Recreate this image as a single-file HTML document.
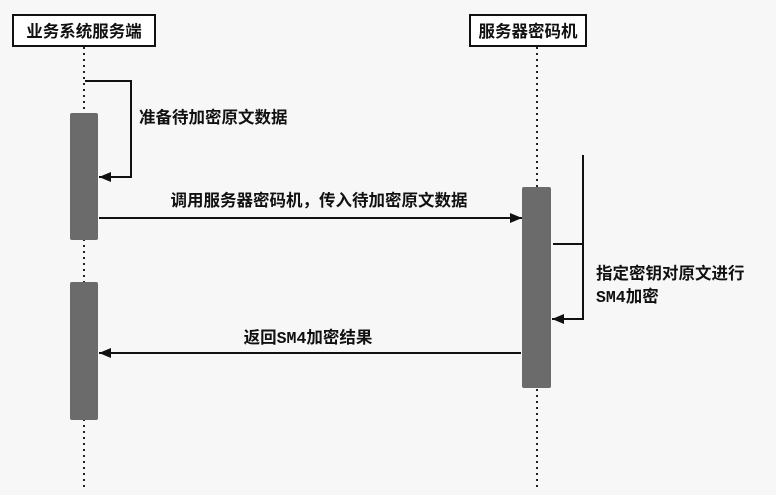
<!DOCTYPE html>
<html><head><meta charset="utf-8"><style>
body{margin:0;background:#f7f7f7;}
svg text{font-family:"Liberation Mono","Noto Sans CJK SC",sans-serif;font-weight:bold;fill:#111;font-size:16.5px;}
</style></head><body>
<svg width="776" height="490" viewBox="0 0 776 490" xmlns="http://www.w3.org/2000/svg">
<defs><marker id="a" markerWidth="12" markerHeight="10" refX="12" refY="5" orient="auto" markerUnits="userSpaceOnUse"><path d="M0,0 L12,5 L0,10 Z" fill="#111"/></marker></defs>
<rect width="776" height="490" fill="#f7f7f7"/>
<line x1="84" y1="47" x2="84" y2="490" stroke="#222" stroke-width="2" stroke-dasharray="2,4"/>
<line x1="537" y1="47" x2="537" y2="490" stroke="#222" stroke-width="2" stroke-dasharray="2,4"/>
<rect x="13" y="15" width="142" height="31" fill="#fff" stroke="#111" stroke-width="2"/>
<text x="84" y="37" text-anchor="middle">业务系统服务端</text>
<rect x="470" y="15" width="116" height="31" fill="#fff" stroke="#111" stroke-width="2"/>
<text x="528" y="37" text-anchor="middle">服务器密码机</text>
<rect x="70" y="113" width="28" height="127" rx="2" fill="#6b6b6b"/>
<rect x="70" y="282" width="28" height="138" rx="2" fill="#6b6b6b"/>
<rect x="522" y="187" width="29" height="201" rx="2" fill="#6b6b6b"/>
<polyline points="85,81 131,81 131,177 99,177" fill="none" stroke="#111" stroke-width="2" marker-end="url(#a)"/>
<text x="139" y="123">准备待加密原文数据</text>
<line x1="99" y1="218" x2="522" y2="218" stroke="#111" stroke-width="2" marker-end="url(#a)"/>
<text x="319" y="206" text-anchor="middle">调用服务器密码机，传入待加密原文数据</text>
<line x1="553" y1="244" x2="583" y2="244" stroke="#111" stroke-width="2"/>
<polyline points="583,155 583,319 552,319" fill="none" stroke="#111" stroke-width="2" marker-end="url(#a)"/>
<text x="596" y="279">指定密钥对原文进行</text>
<text x="596" y="302">SM4加密</text>
<line x1="521" y1="353" x2="99" y2="353" stroke="#111" stroke-width="2" marker-end="url(#a)"/>
<text x="308" y="343" text-anchor="middle">返回SM4加密结果</text>
</svg>
</body></html>
